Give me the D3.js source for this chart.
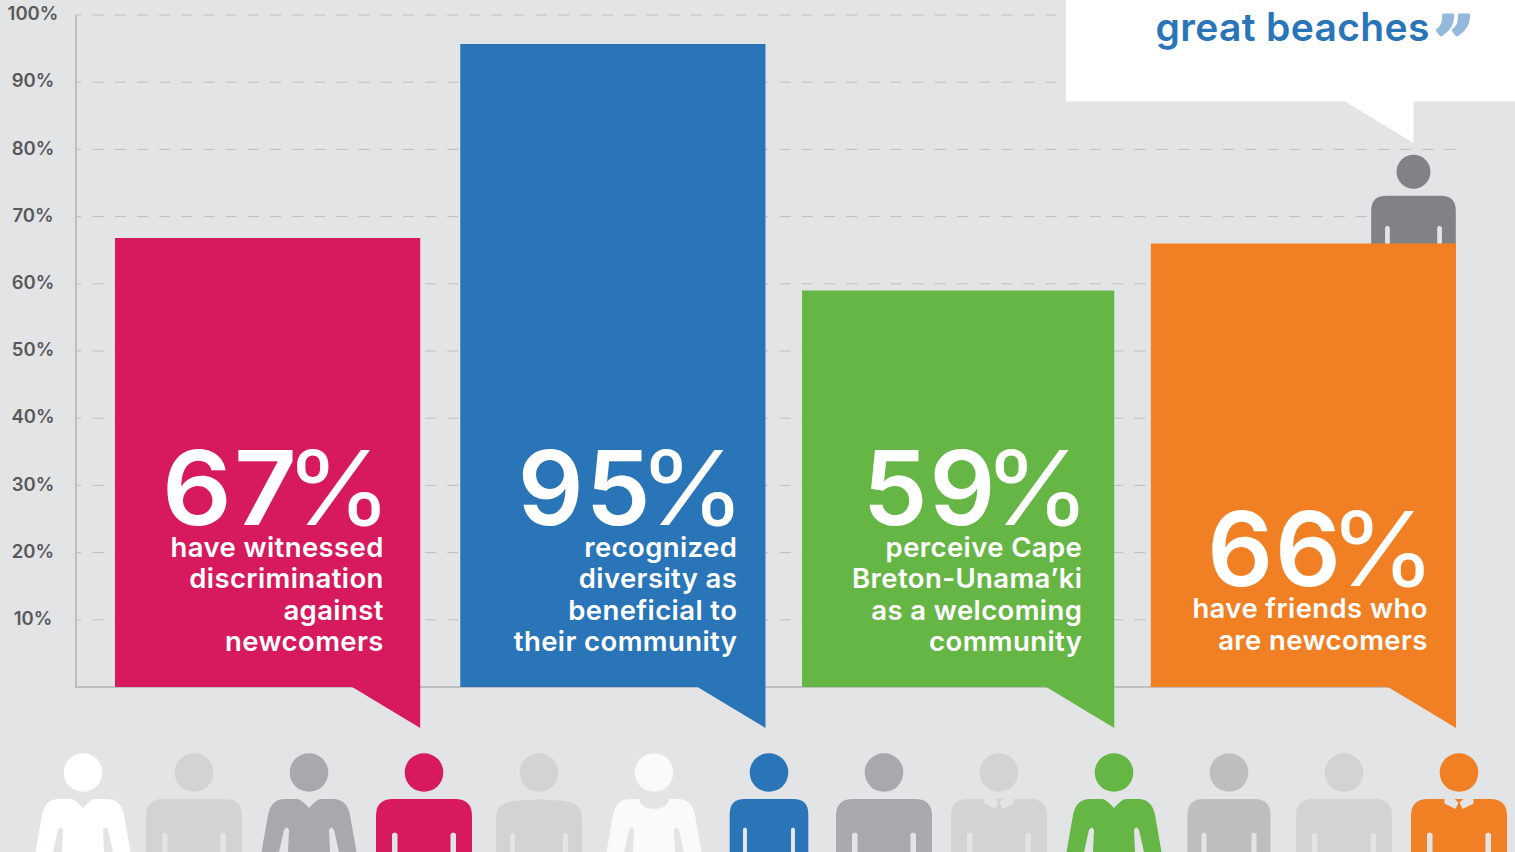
<!DOCTYPE html>
<html>
<head>
<meta charset="utf-8">
<script src="https://cdn.jsdelivr.net/npm/d3@7"></script>
<style>
  html, body { margin: 0; padding: 0; background: #e3e4e6; overflow: hidden; }
  text { font-family: Inter, "Open Sans", sans-serif; }
</style>
</head>
<body>
<div id="chart-area"></div>
<script>
// data
const categories = ["discrimination", "diversity", "welcoming", "friends"];
const barValues = [66.8, 95.7, 59, 66];
const bigLabels = ["67", "95", "59", "66"];
const captions = [
  ["have witnessed", "discrimination", "against", "newcomers"],
  ["recognized", "diversity as", "beneficial to", "their community"],
  ["perceive Cape", "Breton-Unama\u2019ki", "as a welcoming", "community"],
  ["have friends who", "are newcomers"]
];
const barColors = ["#d71a5e", "#2a74b8", "#66b646", "#f18024"];
const yTicks = [10, 20, 30, 40, 50, 60, 70, 80, 90, 100];

const people = ["p0", "p1", "p2", "p3", "p4", "p5", "p6", "p7", "p8", "p9", "p10", "p11", "p12"];
const peopleColors = ["#ffffff", "#d1d3d4", "#a7a9ac", "#d71a5e", "#d1d3d4", "#fafafa", "#2a74b8",
  "#a7a9ac", "#d1d3d4", "#66b646", "#bcbec0", "#d1d3d4", "#f18024"];
const peopleKinds = ["blouse", "wide", "blouse", "wide", "flat", "crew", "narrow",
  "wide", "collarL", "blouse", "mid", "wide", "collar"];

const bg = "#e3e4e6";
const width = 1515, height = 852;

const svg = d3.select("#chart-area")
  .append("svg")
    .attr("width", width)
    .attr("height", height)
    .style("display", "block");

const y = d3.scaleLinear().domain([0, 100]).range([687, 15]);
const x = d3.scaleBand()
  .domain(categories)
  .range([115, 1456])
  .paddingInner(0.116)
  .paddingOuter(0);

// third bar is a bit wider than the rest in the original
const barPad = { welcoming: [-3.5, 3.5] };
const barLeft = (d) => x(d) + (barPad[d] ? barPad[d][0] : 0);
const barRight = (d) => x(d) + x.bandwidth() + (barPad[d] ? barPad[d][1] : 0);

// grid + axis
const yAxis = d3.axisLeft(y)
  .tickValues(yTicks)
  .tickSize(0)
  .tickFormat((d) => d + "%");

const axisG = svg.append("g")
  .attr("transform", "translate(76,0)")
  .call(yAxis);
axisG.select(".domain").remove();
axisG.selectAll("text")
  .attr("x", -43)
  .attr("dy", "0.25em")
  .attr("text-anchor", "middle")
  .attr("font-size", 18.5)
  .attr("font-weight", 600)
  .attr("fill", "#58595b")
  .style("font-family", "Inter");

svg.append("g").selectAll("line").data(yTicks).enter()
  .append("line")
    .attr("x1", 77).attr("x2", 1456)
    .attr("y1", (d) => y(d)).attr("y2", (d) => y(d))
    .attr("stroke", "#bcbec0")
    .attr("stroke-width", 1)
    .attr("stroke-dasharray", "4 11.7 " + d3.range(130).map(() => "11.08").join(" "));

svg.append("line")
  .attr("x1", 76).attr("x2", 76)
  .attr("y1", y(100)).attr("y2", y(0))
  .attr("stroke", "#bcbec0").attr("stroke-width", 2);
svg.append("line")
  .attr("x1", 75).attr("x2", 1456)
  .attr("y1", y(0)).attr("y2", y(0))
  .attr("stroke", "#bcbec0").attr("stroke-width", 2);

// figure drawn in local coords, head centre at x=0, body top at y=0
function plainBody(hw, r, slitIn, slitW, slitTop, bottom) {
  const s = d3.path();
  s.moveTo(-hw, bottom);
  s.lineTo(-hw, r);
  s.quadraticCurveTo(-hw, 0, -hw + r, 0);
  s.lineTo(hw - r, 0);
  s.quadraticCurveTo(hw, 0, hw, r);
  s.lineTo(hw, bottom);
  s.lineTo(slitIn + slitW, bottom);
  s.lineTo(slitIn + slitW, slitTop + 2);
  s.quadraticCurveTo(slitIn + slitW / 2, slitTop - 1, slitIn, slitTop + 2);
  s.lineTo(slitIn, bottom);
  s.lineTo(-slitIn, bottom);
  s.lineTo(-slitIn, slitTop + 2);
  s.quadraticCurveTo(-slitIn - slitW / 2, slitTop - 1, -slitIn - slitW, slitTop + 2);
  s.lineTo(-slitIn - slitW, bottom);
  s.closePath();
  return s.toString();
}

function flatBody() {
  return "M-43,53 L-43,19 Q-43,4 -25,2 Q0,-1 25,2 Q43,4 43,19 L43,53 L29,53 L29,36 Q26.5,32 24,36 L24,53 "
    + "L-24,53 L-24,36 Q-26.5,32 -29,36 L-29,53 Z";
}

function blouseBody(neck) {
  const top = neck === "crew"
    ? "L-15,0 Q-14,9 0,10 Q14,9 15,0"
    : "L-12,0 Q-8,0 0,9 Q8,0 12,0";
  return "M-47.5,53 L-41,16 Q-38,0 -24,0 " + top + " L24,0 Q38,0 41,16 L47.5,53 L30,53 "
    + "L25,31 Q22,26 20,31 L21,53 L-21,53 L-20,31 Q-22,26 -25,31 L-30,53 Z";
}

const personX = d3.scalePoint().domain(people.slice(1)).range([194, 1459]);

const crowd = svg.append("g");
people.forEach((p, i) => {
  const cx = i === 0 ? 83 : personX(p);
  const kind = peopleKinds[i];
  const col = peopleColors[i];
  const g = crowd.append("g").attr("transform", "translate(" + cx + ",799)");
  g.append("circle").attr("cx", 0).attr("cy", -26.5).attr("r", 19.3).attr("fill", col);
  let d;
  if (kind === "blouse") d = blouseBody("v");
  else if (kind === "crew") d = blouseBody("crew");
  else if (kind === "flat") d = flatBody();
  else if (kind === "narrow") d = plainBody(39.3, 15, 22, 4, 28, 53);
  else if (kind === "mid") d = plainBody(41.5, 16, 22.5, 5, 33, 53);
  else d = plainBody(48, 17, 26.5, 5.5, 33, 53);
  g.append("path").attr("d", d).attr("fill", col);
  if (kind === "collar" || kind === "collarL") {
    g.append("path")
      .attr("d", "M-14.5,-1 L-14.5,4.5 L-3.5,10 L-0.5,3.5 L-5.5,-1 Z M14.5,-1 L14.5,4.5 L3.5,10 L0.5,3.5 L5.5,-1 Z")
      .attr("fill", bg);
  }
});

// person behind orange bar
const speaker = svg.append("g").attr("transform", "translate(1413.5,195.7)");
speaker.append("circle").attr("cy", -24).attr("r", 17).attr("fill", "#808285");
speaker.append("path").attr("d", plainBody(42.3, 15, 23.7, 4.7, 29.5, 50)).attr("fill", "#808285");

// bars with speech tail
const bars = svg.append("g").selectAll("g").data(categories).enter().append("g");
bars.append("path")
  .attr("d", (d, i) => {
    const l = barLeft(d), r = barRight(d), t = y(barValues[i]), b = y(0);
    return "M" + l + "," + t + " L" + r + "," + t + " L" + r + "," + (b + 41)
      + " L" + (r - 68) + "," + b + " L" + l + "," + b + " Z";
  })
  .attr("fill", (d, i) => barColors[i]);

const textRight = [383, 736.5, 1081.5, 1427];
categories.forEach((c, i) => {
  const n = captions[i].length;
  const firstBase = n === 4 ? 557 : 618;
  const bigBase = n === 4 ? 525 : 586;
  const right = textRight[i];

  // digits right aligned against the % sign, % stretched a little (font is narrower than original)
  const digits = svg.append("text")
    .attr("x", right - 84)
    .attr("y", bigBase)
    .attr("text-anchor", "end")
    .attr("fill", "#fff")
    .attr("font-size", 103)
    .attr("font-weight", 600)
    .attr("letter-spacing", 2)
    .text(bigLabels[i]);
  // 67 runs narrow in this font
  if (i === 0) {
    digits.attr("textLength", digits.node().getComputedTextLength() * 1.06)
      .attr("lengthAdjust", "spacingAndGlyphs");
  }
  svg.append("text")
    .attr("x", right - 98)
    .attr("y", bigBase)
    .attr("fill", "#fff")
    .attr("font-size", 103)
    .attr("font-weight", 400)
    .attr("textLength", 107)
    .attr("lengthAdjust", "spacingAndGlyphs")
    .text("%");

  svg.append("g").selectAll("text").data(captions[i]).enter()
    .append("text")
      .attr("x", right + 0.8)
      .attr("y", (d, j) => firstBase + j * (n === 4 ? 31.3 : 31.8))
      .attr("text-anchor", "end")
      .attr("fill", "#fff")
      .attr("font-size", 27.5)
      .attr("font-weight", 600)
      .attr("letter-spacing", 0.4)
      .text((d) => d);
});

// callout top right
svg.append("path")
  .attr("d", "M1066,0 L1515,0 L1515,101.5 L1413.5,101.5 L1413.5,143 L1345,101.5 L1066,101.5 Z")
  .attr("fill", "#fff");
svg.append("text")
  .attr("x", 1155.5).attr("y", 40.5)
  .attr("fill", "#2a74b8")
  .attr("font-size", 39)
  .attr("font-weight", 600)
  .attr("letter-spacing", 0.35)
  .text("great beaches");
svg.append("text")
  .attr("x", 1434).attr("y", 66)
  .attr("fill", "#94b9dd")
  .attr("stroke", "#94b9dd")
  .attr("stroke-width", 3)
  .attr("stroke-linejoin", "round")
  .attr("font-size", 70)
  .attr("font-weight", 700)
  .style("font-family", "DejaVu Serif")
  .text("\u201d");
</script>
</body>
</html>
